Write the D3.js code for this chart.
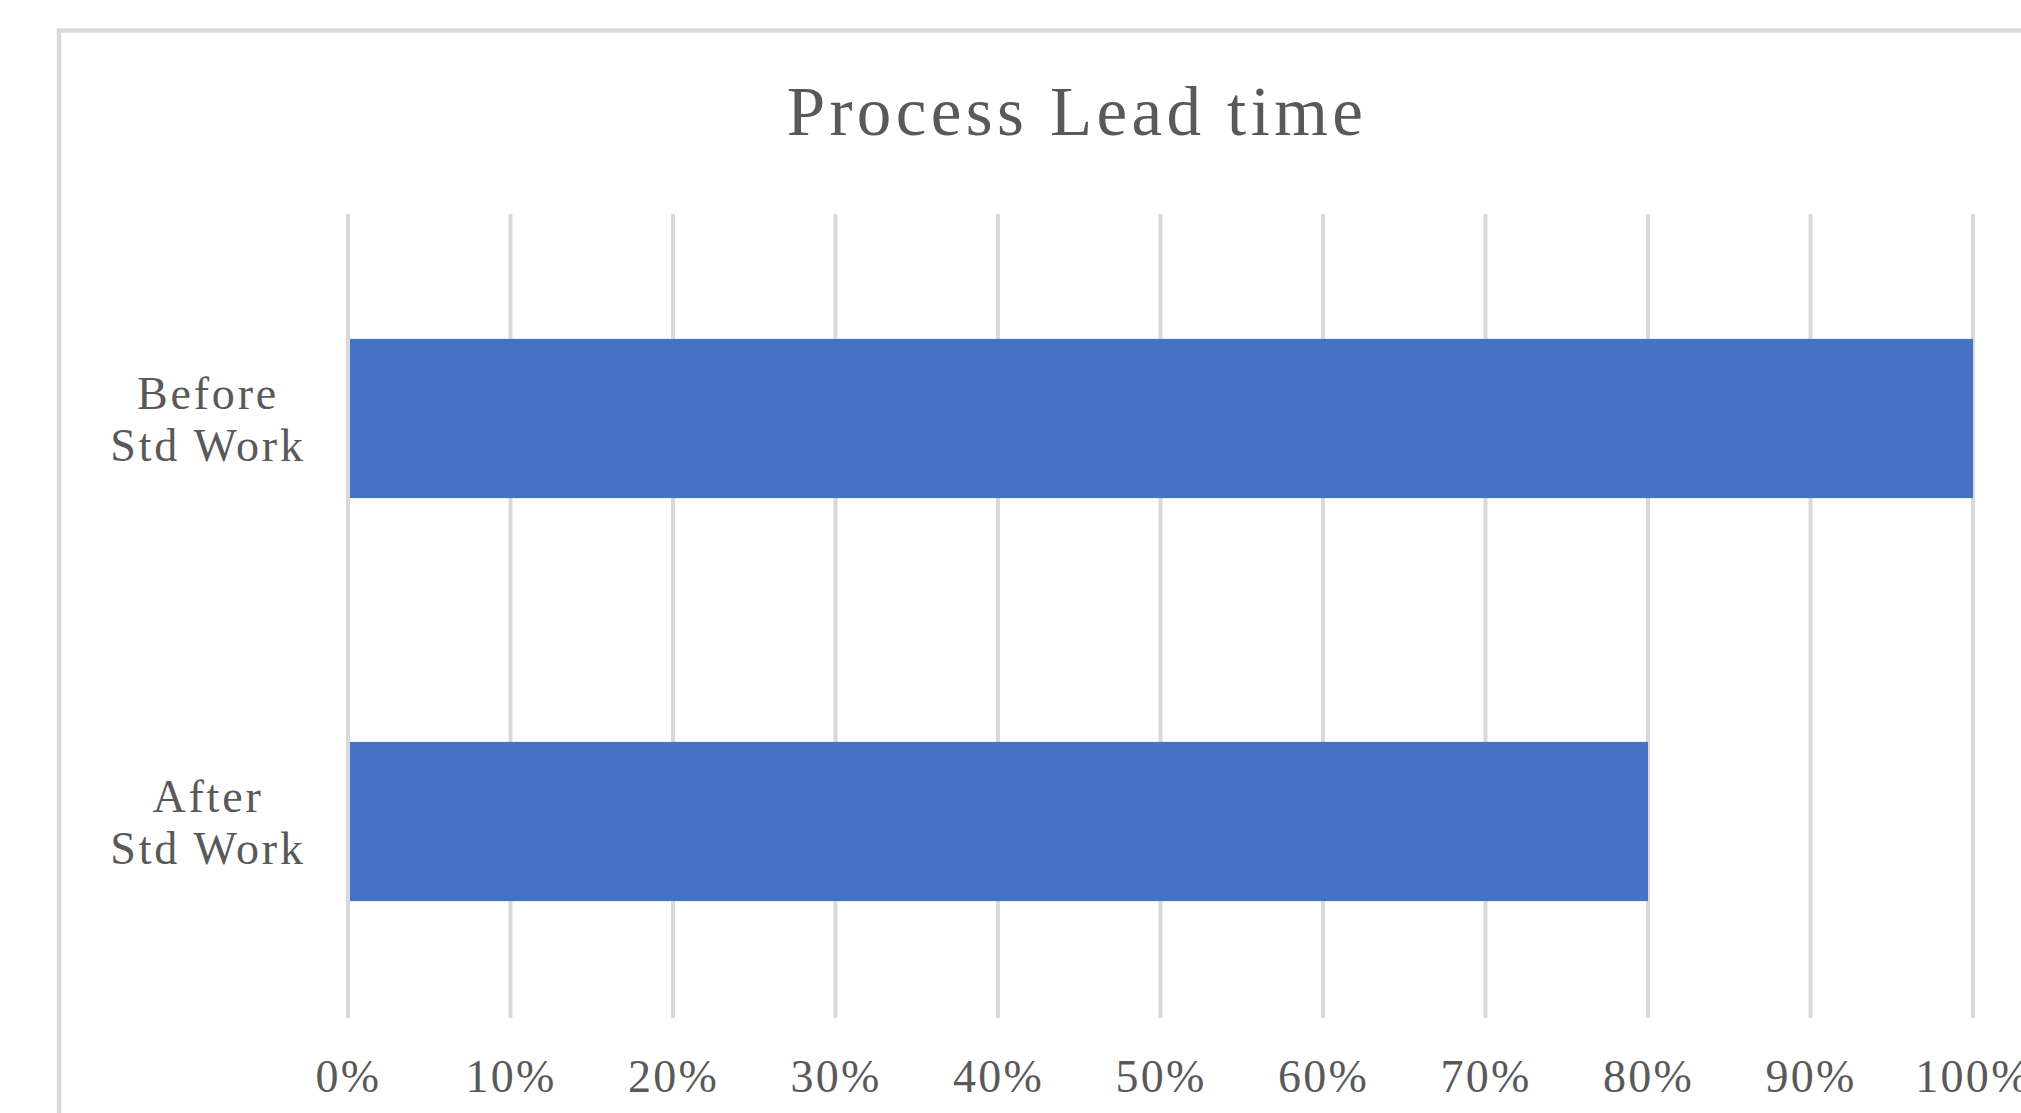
<!DOCTYPE html>
<html>
<head>
<meta charset="utf-8">
<script src="https://cdn.jsdelivr.net/npm/d3@7"></script>
<style>
    html, body { margin: 0; padding: 0; background: #ffffff; overflow: hidden; }
    svg { display: block; font-family: "Liberation Serif", "Times New Roman", serif; }
</style>
</head>
<body>
<svg id="chart"></svg>
<script>
// Data
const categories = ["Before\nStd Work", "After\nStd Work"];
const values = [1.0, 0.8];
const tickValues = [0, 0.1, 0.2, 0.3, 0.4, 0.5, 0.6, 0.7, 0.8, 0.9, 1.0];
const title = "Process Lead time";

const width = 2021;
const height = 1113;

// Colors
const colors = {
    bar: "#4472c4",
    grid: "#d9d9d9",
    border: "#d9d9d9",
    text: "#595959",
};

const plot = { left: 348, right: 1973, top: 214, bottom: 1018 };

const svg = d3.select("#chart")
    .attr("width", width)
    .attr("height", height);

// Chart frame (right and bottom edges fall outside the picture)
svg.append("rect")
    .attr("x", 59)
    .attr("y", 30.5)
    .attr("width", 2100)
    .attr("height", 1200)
    .attr("fill", "#ffffff")
    .attr("stroke", colors.border)
    .attr("stroke-width", 4.5);

const x = d3.scaleLinear()
    .domain([0, 1])
    .range([plot.left, plot.right]);

const y = d3.scaleBand()
    .domain(categories)
    .range([plot.top + 3, plot.bottom + 5])
    .paddingInner(0.605)
    .paddingOuter(0.3025);

// Title
svg.append("text")
    .attr("x", 1077)
    .attr("y", 135)
    .attr("text-anchor", "middle")
    .attr("fill", colors.text)
    .attr("font-size", 69)
    .attr("letter-spacing", 4.4)
    .text(title);

// Vertical gridlines
svg.append("g")
    .selectAll("line")
    .data(tickValues)
    .enter()
    .append("line")
    .attr("x1", (d) => x(d))
    .attr("x2", (d) => x(d))
    .attr("y1", plot.top)
    .attr("y2", plot.bottom)
    .attr("stroke", colors.grid)
    .attr("stroke-width", 4);

// Bars
svg.append("g")
    .selectAll("rect")
    .data(categories)
    .enter()
    .append("rect")
    .attr("x", x(0) + 2)
    .attr("y", (d) => y(d))
    .attr("width", (d, i) => x(values[i]) - x(0) - 2)
    .attr("height", y.bandwidth())
    .attr("fill", colors.bar);

// X axis tick labels
const xAxis = d3.axisBottom(x)
    .tickValues(tickValues)
    .tickFormat(d3.format(".0%"))
    .tickSize(0)
    .tickPadding(0);

const gx = svg.append("g")
    .attr("transform", `translate(0,${plot.bottom})`)
    .call(xAxis);
gx.select(".domain").remove();
gx.selectAll("text")
    .attr("dy", null)
    .attr("y", 74)
    .attr("fill", colors.text)
    .attr("font-size", 46)
    .attr("letter-spacing", 2.3)
    .style("font-family", "Liberation Serif, serif");

// Y axis category labels (two lines each)
const gy = svg.append("g");
categories.forEach((cat) => {
    const lines = cat.split("\n");
    const cy = y(cat) + y.bandwidth() / 2;
    const t = gy.append("text")
        .attr("text-anchor", "middle")
        .attr("fill", colors.text)
        .attr("font-size", 46)
        .attr("letter-spacing", 2.8);
    lines.forEach((line, i) => {
        t.append("tspan")
            .attr("x", 208)
            .attr("y", cy - 10 + (i * 52))
            .text(line);
    });
});
</script>
</body>
</html>
